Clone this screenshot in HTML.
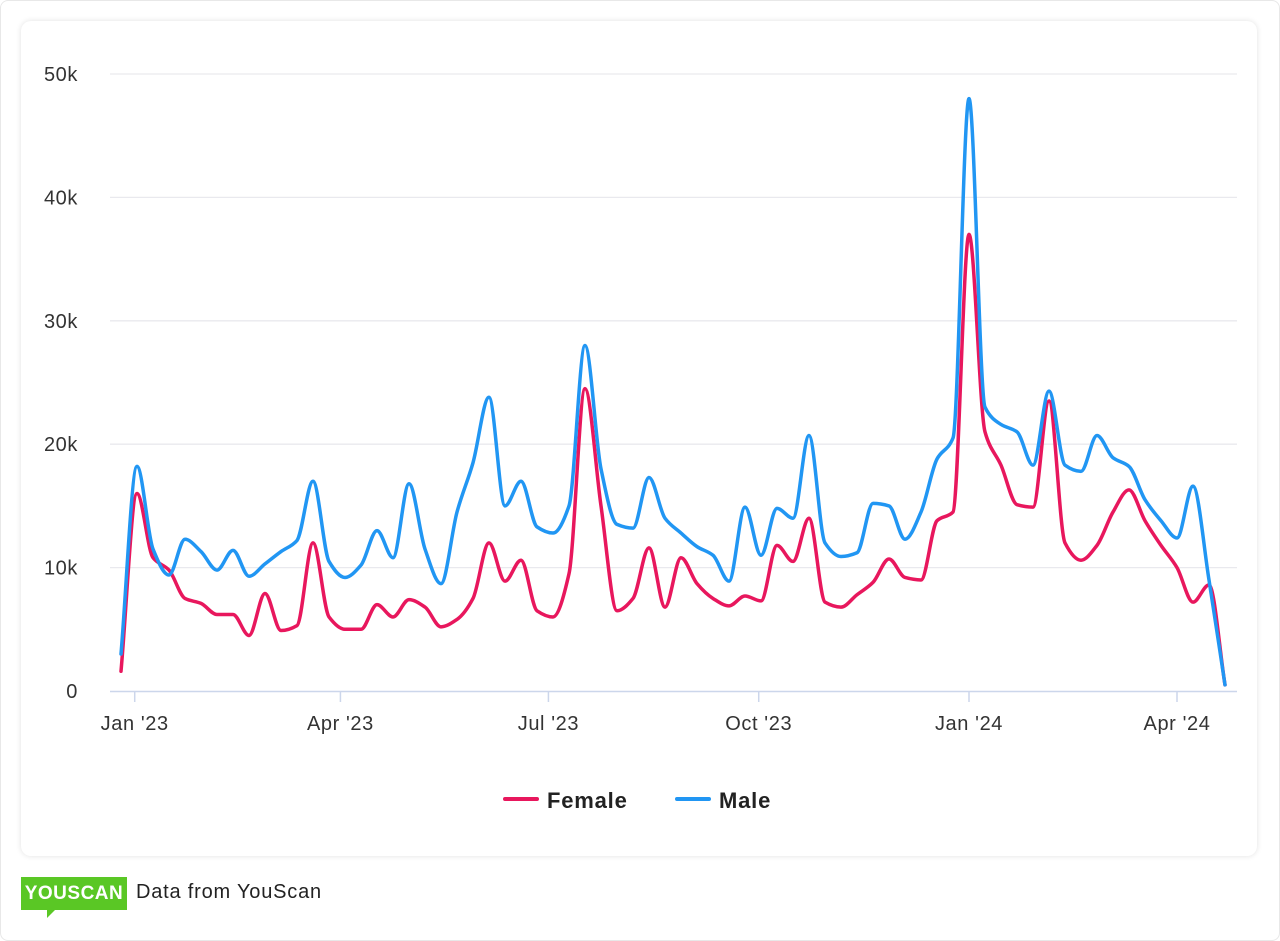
<!DOCTYPE html>
<html><head><meta charset="utf-8">
<style>
html,body{margin:0;padding:0;background:#fff;}
body{width:1280px;height:941px;position:relative;overflow:hidden;font-family:"Liberation Sans",sans-serif;}
.frame{position:absolute;left:0;top:0;width:1278px;height:939px;border:1px solid #e8e8e8;border-radius:8px;background:#fff;}
.card{position:absolute;left:21px;top:21px;width:1236px;height:835px;background:#fff;border-radius:10px;box-shadow:0 0 6px rgba(0,0,0,0.12);}
.logo{position:absolute;left:21px;top:877px;width:106px;height:33px;background:#5ac725;color:#fff;font-weight:bold;font-size:19px;line-height:33px;text-align:center;letter-spacing:0.5px;}
.logo:after{content:"";position:absolute;left:26px;bottom:-8px;border-left:8px solid #5ac725;border-bottom:8px solid transparent;}
.src{position:absolute;left:136px;top:881px;font-size:20px;letter-spacing:0.8px;color:#222;}
</style></head><body>
<div class="frame"></div>
<div class="card"></div>
<svg id="chart" width="1280" height="941" style="position:absolute;left:0;top:0"></svg>
<div class="logo">YOUSCAN</div>
<div class="src">Data from YouScan</div>
<script>
const female=[1.6,16.0,10.8,9.8,7.5,7.1,6.2,6.2,4.5,7.9,4.9,5.3,12.0,6.0,5.0,5.0,7.0,6.0,7.4,6.8,5.2,5.8,7.5,12.0,8.9,10.6,6.5,6.0,9.5,24.5,15.0,6.5,7.5,11.6,6.8,10.8,8.7,7.5,6.9,7.7,7.3,11.8,10.5,14.0,7.2,6.8,7.8,8.8,10.7,9.2,9.0,13.8,14.5,37.0,21.0,18.3,15.1,14.9,23.5,12.0,10.6,11.8,14.5,16.3,13.8,11.8,10.0,7.2,8.6,0.5];
const male=[3.0,18.2,11.5,9.4,12.3,11.3,9.8,11.4,9.3,10.3,11.3,12.2,17.0,10.5,9.2,10.2,13.0,10.8,16.8,11.5,8.7,14.5,18.5,23.8,15.0,17.0,13.3,12.8,15.0,28.0,18.0,13.5,13.2,17.3,14.0,12.8,11.7,11.0,8.9,14.9,11.0,14.8,14.0,20.7,12.0,10.9,11.2,15.2,15.0,12.3,14.5,18.8,20.5,48.0,23.0,21.6,21.0,18.3,24.3,18.3,17.8,20.7,18.9,18.2,15.5,13.8,12.4,16.6,9.0,0.5];
const yTicks=[0,10,20,30,40,50];
const yTickLabels=["0","10k","20k","30k","40k","50k"];
const xTickDays=[6,96,187,279,371,462];
const xTickLabels=["Jan '23","Apr '23","Jul '23","Oct '23","Jan '24","Apr '24"];
const NS="http://www.w3.org/2000/svg";
const svg=document.getElementById('chart');
const xDay=d=>121+d*16/7;
const xi=i=>xDay(i*7);
const y=v=>691-v*(617/50);
function mk(t,a){const e=document.createElementNS(NS,t);for(const k in a)e.setAttribute(k,a[k]);svg.appendChild(e);return e;}
yTicks.forEach((t,i)=>{
  if(t>0){const g=mk('line',{x1:110,x2:1237,y1:y(t),y2:y(t),stroke:'#e9e9ee','stroke-width':1.3});
  
  }
  const tx=mk('text',{x:78,y:y(t)+7,'text-anchor':'end','font-size':20,'letter-spacing':0.6,fill:'#333','font-family':'Liberation Sans, sans-serif'});
  tx.textContent=yTickLabels[i];
  
  
});
const ax=mk('line',{x1:110,x2:1237,y1:691.5,y2:691.5,stroke:'#ccd6eb','stroke-width':1.5});


xTickDays.forEach((d,i)=>{
  const tk=mk('line',{x1:xDay(d),x2:xDay(d),y1:691,y2:702,stroke:'#ccd6eb','stroke-width':1.5});
  
  
  const tx=mk('text',{x:xDay(d),y:730,'text-anchor':'middle','font-size':20,'letter-spacing':0.6,fill:'#333','font-family':'Liberation Sans, sans-serif'});
  tx.textContent=xTickLabels[i];
  
  
});
function monotone(pts){
  const n=pts.length,dx=[],m=[],s=[];
  for(let i=0;i<n-1;i++){dx[i]=pts[i+1][0]-pts[i][0];s[i]=(pts[i+1][1]-pts[i][1])/dx[i];}
  m[0]=s[0];m[n-1]=s[n-2];
  for(let i=1;i<n-1;i++){m[i]=(s[i-1]*s[i]<=0)?0:(3*(dx[i-1]+dx[i]))/((2*dx[i]+dx[i-1])/s[i-1]+(dx[i]+2*dx[i-1])/s[i]);}
  let d='M'+pts[0][0]+','+pts[0][1];
  for(let i=0;i<n-1;i++){const h=dx[i]/3;
    d+=' C'+(pts[i][0]+h)+','+(pts[i][1]+m[i]*h)+' '+(pts[i+1][0]-h)+','+(pts[i+1][1]-m[i+1]*h)+' '+pts[i+1][0]+','+pts[i+1][1];}
  return d;
}
function series(vals,color,name){
  const p=mk('path',{d:monotone(vals.map((v,i)=>[xi(i),y(v)])),fill:'none',stroke:color,'stroke-width':3.5,'stroke-linejoin':'round','stroke-linecap':'round'});
  
  
}
series(female,'#e8175d','female-line');
series(male,'#2196f3','male-line');
[[505,'#e8175d','Female','legend-female'],[677,'#2196f3','Male','legend-male']].forEach(l=>{
  const ln=mk('line',{x1:l[0],x2:l[0]+32,y1:799,y2:799,stroke:l[1],'stroke-width':4,'stroke-linecap':'round'});
  
  
  const t=mk('text',{x:l[0]+42,y:808,'font-size':22,'letter-spacing':0.8,'font-weight':'bold',fill:'#222','font-family':'Liberation Sans, sans-serif'});
  t.textContent=l[2];
  
  
});
</script>
</body></html>
